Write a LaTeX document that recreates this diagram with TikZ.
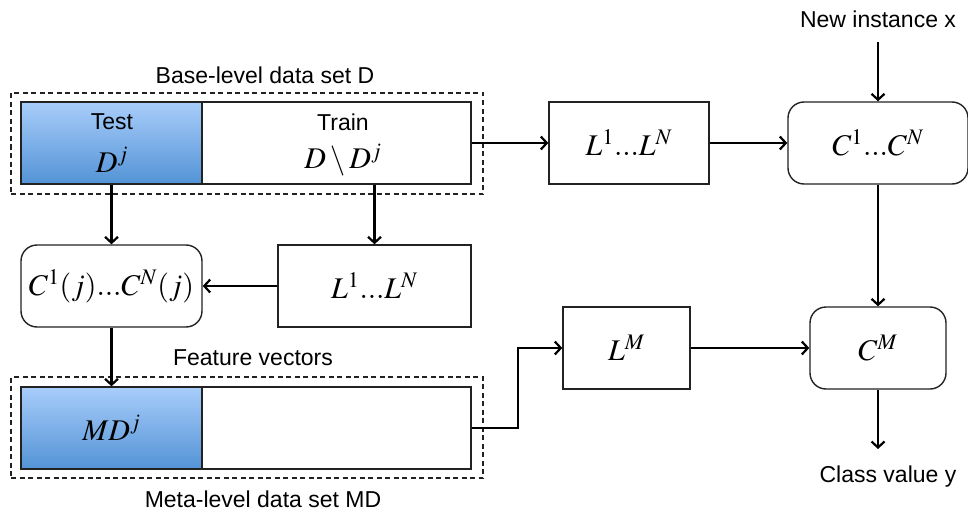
\documentclass[tikz,border=0pt]{standalone}
\usepackage{mathptmx}
\usepackage[no-math]{fontspec}
\setmainfont{Liberation Sans}
\usetikzlibrary{arrows.meta,positioning}
\definecolor{testtop}{HTML}{A8CDFA}
\definecolor{testbot}{HTML}{5393D6}
\definecolor{edge}{HTML}{222222}

\begin{document}
\begin{tikzpicture}[x=1pt,y=-1pt,>={Straight Barb[length=6pt,width=13pt,line width=2.2pt]},
  every node/.style={font=\fontsize{23}{27}\selectfont},
  mth/.style={font=\fontsize{30}{34}\selectfont},
  box/.style={draw=edge,line width=1.4pt,inner sep=0pt,mth,minimum height=82pt},
  rbox/.style={box,rounded corners=16pt},
  part/.style={box,shading=axis,top color=testtop,bottom color=testbot},
  frame/.style={draw=edge,dash pattern=on 5pt off 3.5pt,line width=1.1pt,inner sep=0pt},
  flow/.style={->,line width=2.2pt}]
\useasboundingbox (0,0) rectangle (968,516);
% base-level data set, split into test and train
\node[frame,minimum width=472pt,minimum height=101pt] (dsframe) at (247,143.5) {};
\node[part,minimum width=181pt] (test) at (111.5,143) {};
\node[box,minimum width=269pt] (train) at (336.5,143) {};
\node at (112,122) {Test};
\node[mth] at (112,160) {$D^j$};
\node at (343,122) {Train};
\node[mth] at (343,160) {$D\setminus D^j$};
\node (dslabel) at (265,75) {Base-level data set D};

\node[box,minimum width=160pt] (lrnall) at (629,143) {$L^1...L^N$};
\node[rbox,minimum width=180pt] (clsall) at (878,143) {$C^1...C^N$};
\node (newx) at (878,19) {New instance x};
\coordinate (newxin) at (878,42);

\node[rbox,minimum width=181pt] (clsj) at (111.5,286) {$C^1(j)...C^N(j)$};
\node[box,minimum width=193pt] (lrnj) at (374.5,286) {$L^1...L^N$};

% meta-level data set built from the predictions
\node (fvec) at (253,358) {Feature vectors};
\node[frame,minimum width=472pt,minimum height=101pt] (mdframe) at (247,427.5) {};
\node[part,minimum width=181pt] (mdtest) at (111.5,428) {$MD^j$};
\node[box,minimum width=269pt] (mdrest) at (336.5,428) {};
\node (mdlabel) at (263,499) {Meta-level data set MD};

\node[box,minimum width=127pt] (lrnm) at (626.5,348) {$L^M$};
\node[rbox,minimum width=136pt] (clsm) at (878,348) {$C^M$};
\coordinate (out) at (878,449);
\node (classy) at (888,477) {Class value y};

\draw[flow] (newxin) -- (clsall);
\draw[flow] (train) -- (lrnall);
\draw[flow] (lrnall) -- (clsall);
\draw[flow] (clsall) -- (clsm);
\draw[flow] (test) -- (clsj);
\draw[flow] (lrnj.north |- train.south) -- (lrnj);
\draw[flow] (lrnj) -- (clsj);
\draw[flow] (clsj) -- (mdtest);
\draw[flow] (mdrest.east) -- ++(46,0) |- (lrnm);
\draw[flow] (lrnm) -- (clsm);
\draw[flow] (clsm) -- (out);
\end{tikzpicture}
\end{document}
